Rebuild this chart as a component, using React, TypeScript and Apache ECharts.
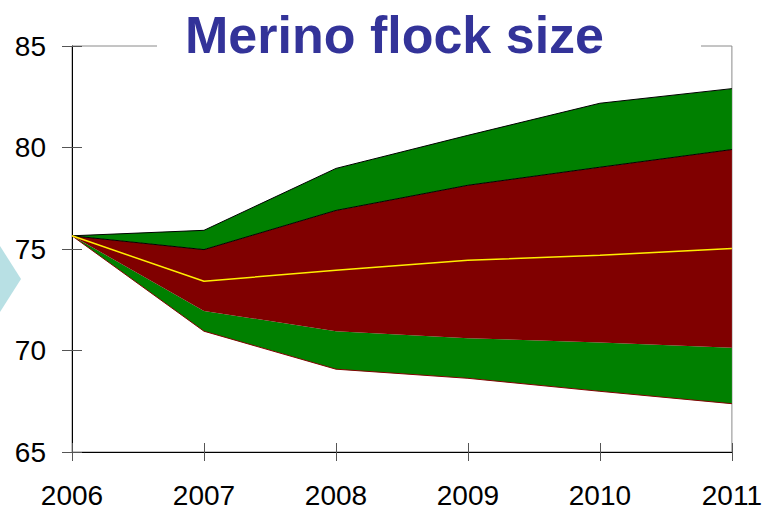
import React, { useEffect, useRef } from "react";
import * as echarts from "echarts";

const years = ["2006", "2007", "2008", "2009", "2010", "2011"];
const outerLow = [75.65, 70.95, 69.08, 68.63, 67.99, 67.38];
const innerLow = [75.65, 71.95, 70.95, 70.6, 70.4, 70.14];
const median = [75.65, 73.41, 73.95, 74.44, 74.69, 75.02];
const innerHigh = [75.65, 74.97, 76.9, 78.14, 79.03, 79.9];
const outerHigh = [75.65, 75.92, 78.97, 80.6, 82.18, 82.9];
const yTicks = [65, 70, 75, 80, 85];

const FONT = "Liberation Sans, Arial, sans-serif";

export default function App() {
  const ref = useRef<HTMLDivElement>(null);
  useEffect(() => {
    if (!ref.current) return;
    const chart = echarts.init(ref.current, null, { renderer: "svg" });
    const diff = (a: number[], b: number[]) => a.map((v, i) => +(v - b[i]).toFixed(3));
    const common = {
      type: "line",
      stack: "band",
      symbol: "none",
      silent: true,
      xAxisIndex: 0,
      yAxisIndex: 0,
    };
    chart.setOption({
      animation: false,
      title: {
        text: "Merino flock size",
        left: 157,
        top: 0,
        padding: [9, 97, 2, 28],
        backgroundColor: "#ffffff",
        textStyle: { fontFamily: FONT, fontSize: 52, fontWeight: "bold", color: "#333399" },
        z: 20,
      },
      graphic: [
        {
          type: "polygon",
          shape: { points: [[0, 246], [21, 279], [0, 312]] },
          style: { fill: "#b8e0e4" },
        },
      ],
      grid: {
        left: 72,
        right: 32,
        top: 46,
        bottom: 59,
        show: true,
        borderColor: "#8a8a8a",
        borderWidth: 1,
        backgroundColor: "transparent",
      },
      xAxis: [
        {
          type: "category",
          data: years,
          boundaryGap: false,
          axisLine: { show: true, lineStyle: { color: "#000", width: 1 } },
          axisTick: { show: true, length: 9, lineStyle: { color: "#555" } },
          axisLabel: {
            margin: 29,
            fontFamily: FONT,
            fontSize: 28,
            color: "#000",
            showMaxLabel: true,
            showMinLabel: true,
            interval: 0,
          },
          splitLine: { show: false },
        },
        {
          type: "category",
          data: years,
          boundaryGap: false,
          position: "bottom",
          axisLine: { show: false },
          axisTick: { show: true, inside: true, length: 9, lineStyle: { color: "#555" } },
          axisLabel: { show: false },
          splitLine: { show: false },
        },
      ],
      yAxis: [
        {
          type: "value",
          min: yTicks[0],
          max: yTicks[yTicks.length - 1],
          interval: 5,
          axisLine: { show: true, lineStyle: { color: "#000", width: 1 } },
          axisTick: { show: true, length: 10, lineStyle: { color: "#555" } },
          axisLabel: { margin: 26, fontFamily: FONT, fontSize: 28, color: "#000" },
          splitLine: { show: false },
        },
        {
          type: "value",
          position: "left",
          min: yTicks[0],
          max: yTicks[yTicks.length - 1],
          interval: 5,
          axisLine: { show: false },
          axisTick: { show: true, inside: true, length: 10, lineStyle: { color: "#555" } },
          axisLabel: { show: false },
          splitLine: { show: false },
        },
      ],
      series: [
        {
          ...common,
          name: "base",
          data: outerLow,
          lineStyle: { color: "#800000", width: 1 },
          z: 5,
        },
        {
          ...common,
          name: "lowGreen",
          data: diff(innerLow, outerLow),
          lineStyle: { width: 0 },
          areaStyle: { color: "#008000", opacity: 1 },
          z: 3,
        },
        {
          ...common,
          name: "red",
          data: diff(innerHigh, innerLow),
          lineStyle: { color: "#000", width: 1 },
          areaStyle: { color: "#800000", opacity: 1 },
          z: 3,
        },
        {
          ...common,
          name: "highGreen",
          data: diff(outerHigh, innerHigh),
          lineStyle: { color: "#000", width: 1 },
          areaStyle: { color: "#008000", opacity: 1 },
          z: 3,
        },
        {
          type: "line",
          name: "median",
          symbol: "none",
          silent: true,
          data: median,
          lineStyle: { color: "#ffee00", width: 1.5 },
          z: 6,
        },
      ],
    });
    return () => chart.dispose();
  }, []);
  return <div ref={ref} style={{ width: 765, height: 511, position: "absolute", left: 0, top: 0 }} />;
}
